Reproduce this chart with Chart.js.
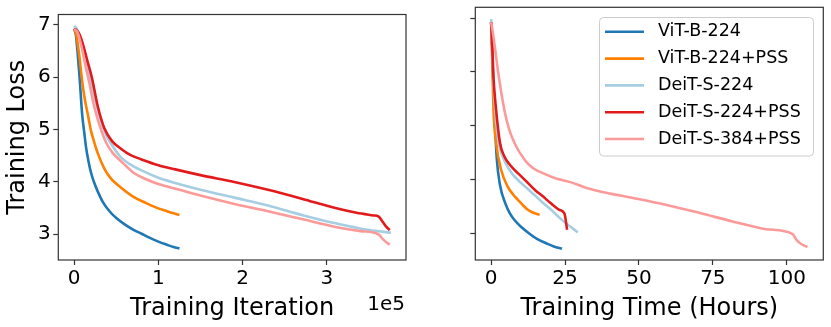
<!DOCTYPE html>
<html>
<head>
<meta charset="utf-8">
<script src="https://cdn.jsdelivr.net/npm/chart.js@4.4.1/dist/chart.umd.min.js"></script>
<style>
  html, body { margin: 0; padding: 0; background: #fff; }
  #wrap { position: relative; width: 831px; height: 327px; }
  #iterChart { position: absolute; left: 0; top: 0; }
  #timeChart { position: absolute; left: 420px; top: 0; }
</style>
</head>
<body>
<div id="wrap">
  <canvas id="iterChart" width="420" height="327"></canvas>
  <canvas id="timeChart" width="411" height="327"></canvas>
</div>
<script>
const seriesNames = ['ViT-B-224', 'ViT-B-224+PSS', 'DeiT-S-224', 'DeiT-S-224+PSS', 'DeiT-S-384+PSS'];
const seriesColors = ['#1f78b4', '#ff7f00', '#a6cee3', '#e31a1c', '#fb9a99'];

// left panel: loss vs training iteration
const vitIter = [0, 2000, 4000, 6500, 9500, 12000, 14000, 17000, 20000, 24000, 28000, 34000, 42000, 50000, 60000, 70000, 80000, 90000, 100000, 110000, 118000, 125000];
const vitIterLoss = [6.93, 6.82, 6.5, 6.0, 5.3, 4.95, 4.68, 4.4, 4.18, 3.98, 3.82, 3.62, 3.44, 3.31, 3.19, 3.09, 3.01, 2.93, 2.86, 2.8, 2.755, 2.73];
const vitPssIter = [0, 2500, 5000, 7000, 9000, 12500, 16300, 20000, 24000, 28000, 36000, 44000, 55000, 72000, 85000, 99000, 110000, 118000, 125000];
const vitPssIterLoss = [6.92, 6.82, 6.55, 6.3, 6.0, 5.6, 5.29, 4.98, 4.75, 4.55, 4.25, 4.06, 3.9, 3.7, 3.6, 3.5, 3.44, 3.4, 3.37];
const deitIter = [0, 3000, 7000, 11000, 16000, 21000, 28000, 36000, 45000, 55000, 65000, 80000, 100000, 120000, 150000, 190000, 230000, 270000, 310000, 350000, 376000];
const deitIterLoss = [6.98, 6.93, 6.77, 6.55, 6.2, 5.85, 5.38, 4.97, 4.7, 4.48, 4.35, 4.22, 4.08, 3.98, 3.85, 3.7, 3.55, 3.37, 3.21, 3.08, 3.03];
const deitPssIter = [0, 3000, 7000, 11000, 16000, 21000, 28000, 36000, 45000, 56000, 66000, 80000, 100000, 120000, 150000, 190000, 230000, 270000, 310000, 335000, 355000, 361000, 366000, 370000, 374500];
const deitPssIterLoss = [6.92, 6.9, 6.8, 6.6, 6.3, 6.0, 5.45, 5.02, 4.78, 4.63, 4.52, 4.43, 4.32, 4.24, 4.13, 4.0, 3.85, 3.68, 3.5, 3.41, 3.36, 3.34, 3.24, 3.15, 3.08];
const deit384Iter = [0, 4000, 7000, 10000, 14000, 18000, 23000, 28000, 33000, 39000, 46000, 54000, 62000, 70000, 84000, 100000, 125000, 150000, 190000, 230000, 270000, 310000, 340000, 361000, 366000, 370000, 374500];
const deit384IterLoss = [6.92, 6.86, 6.7, 6.5, 6.18, 5.9, 5.5, 5.2, 4.95, 4.72, 4.55, 4.42, 4.3, 4.18, 4.06, 3.96, 3.85, 3.74, 3.58, 3.44, 3.29, 3.14, 3.06, 3.0, 2.91, 2.85, 2.8];

// right panel: loss vs wall-clock hours
const vitHours = [0, 0.3, 0.6, 1.1, 1.9, 3.0, 4.8, 6.3, 7.9, 10.2, 12.9, 15.5, 18.6, 21.2, 24.0];
const vitHoursLoss = [6.93, 6.5, 6.0, 5.3, 4.4, 3.9, 3.56, 3.38, 3.25, 3.12, 3.0, 2.9, 2.82, 2.76, 2.72];
const vitPssHours = [0, 0.3, 0.8, 1.7, 3.4, 5.6, 7.5, 9.0, 10.5, 12.4, 14.5, 16.4];
const vitPssHoursLoss = [6.92, 6.4, 5.3, 4.68, 4.18, 3.87, 3.72, 3.63, 3.54, 3.44, 3.38, 3.35];
const deitHours = [0, 0.3, 0.8, 1.5, 2.5, 3.9, 6.2, 8.0, 10.1, 12.5, 15.2, 17.5, 20.3, 23.0, 25.3, 27.5, 29.3];
const deitHoursLoss = [6.98, 6.6, 5.8, 5.2, 4.7, 4.43, 4.18, 4.05, 3.94, 3.82, 3.69, 3.57, 3.44, 3.3, 3.19, 3.1, 3.02];
const deitPssHours = [0, 0.3, 0.8, 1.7, 3.0, 4.5, 6.0, 7.9, 10.0, 12.4, 15.0, 17.5, 20.0, 23.1, 24.8, 25.7];
const deitPssHoursLoss = [6.92, 6.6, 5.9, 5.29, 4.68, 4.43, 4.3, 4.18, 4.07, 3.94, 3.8, 3.69, 3.57, 3.44, 3.37, 3.07];
const deit384Hours = [0, 0.4, 1.1, 2.6, 4.5, 6.0, 7.9, 11.3, 14.0, 17.5, 22.0, 27.6, 32.0, 36.8, 48.0, 59.4, 70.6, 82.0, 93.0, 102.0, 103.3, 105.0, 107.0];
const deit384HoursLoss = [6.92, 6.8, 6.53, 5.91, 5.29, 4.95, 4.68, 4.37, 4.22, 4.12, 4.02, 3.94, 3.85, 3.78, 3.66, 3.53, 3.38, 3.22, 3.08, 2.99, 2.88, 2.8, 2.75];

const iterTicks = [0, 100000, 200000, 300000];
const hourTicks = [0, 25, 50, 75, 100];
const lossTicks = [3, 4, 5, 6, 7];

Chart.defaults.font.family = "'DejaVu Sans', sans-serif";
Chart.defaults.color = '#000';
Chart.defaults.animation = false;

const frameColor = '#333';

function buildDatasets(xLists, yLists) {
  return seriesNames.map((name, i) => ({
    label: name,
    data: xLists[i].map((x, j) => ({ x: x, y: yLists[i][j] })),
    borderColor: seriesColors[i],
    borderWidth: 2.6,
    pointRadius: 0,
    fill: false,
    cubicInterpolationMode: 'monotone',
    order: seriesNames.length - i   // later series on top, like matplotlib
  }));
}

// full box around the axes
const framePlugin = {
  id: 'frame',
  afterDraw(chart) {
    const a = chart.chartArea, ctx = chart.ctx;
    ctx.save();
    ctx.strokeStyle = frameColor;
    ctx.lineWidth = 1.2;
    ctx.strokeRect(a.left, a.top, a.right - a.left, a.bottom - a.top);
    ctx.restore();
  }
};

// "1e5" offset label under the right end of the x axis
const offsetTextPlugin = {
  id: 'offsetText',
  afterDraw(chart) {
    const ctx = chart.ctx;
    ctx.save();
    ctx.font = "20px 'DejaVu Sans'";
    ctx.fillStyle = '#000';
    ctx.textAlign = 'right';
    ctx.textBaseline = 'alphabetic';
    ctx.fillText('1e5', chart.chartArea.right - 1, 310);
    ctx.restore();
  }
};

const boxLegendPlugin = {
  id: 'boxLegend',
  afterDraw(chart) {
    const ctx = chart.ctx;
    ctx.save();
    ctx.beginPath();
    ctx.roundRect(179.5, 17.5, 214, 138.5, 4);
    ctx.fillStyle = 'rgba(255,255,255,0.8)';
    ctx.fill();
    ctx.strokeStyle = '#cccccc';
    ctx.lineWidth = 1;
    ctx.stroke();
    ctx.font = "17.5px 'DejaVu Sans'";
    ctx.textBaseline = 'middle';
    chart.data.datasets.forEach((ds, i) => {
      const y = 31.8 + i * 26.8;
      ctx.strokeStyle = ds.borderColor;
      ctx.lineWidth = 2.6;
      ctx.beginPath();
      ctx.moveTo(185, y);
      ctx.lineTo(224, y);
      ctx.stroke();
      ctx.fillStyle = '#000';
      ctx.fillText(ds.label, 238, y);
    });
    ctx.restore();
  }
};

function makeOptions(cfg) {
  return {
    responsive: false,
    layout: { padding: { left: 0, right: cfg.padRight, top: 7.3, bottom: 0 } },
    plugins: { legend: { display: false }, tooltip: { enabled: false } },
    scales: {
      x: {
        type: 'linear',
        min: cfg.xMin,
        max: cfg.xMax,
        afterBuildTicks: s => { s.ticks = cfg.xTicks.map(v => ({ value: v })); },
        afterFit: s => { s.height = 67; },
        border: { display: false },
        grid: { drawOnChartArea: false, tickLength: 5, tickColor: frameColor, tickWidth: 1.2 },
        ticks: { font: { size: 20 }, padding: 2, maxRotation: 0, autoSkip: false, callback: cfg.xFormat },
        title: { display: true, text: cfg.xTitle, font: { size: 24 }, padding: { top: 0, bottom: 3.7 } }
      },
      y: {
        type: 'linear',
        min: 2.508,
        max: 7.2,
        afterBuildTicks: s => { s.ticks = lossTicks.map(v => ({ value: v })); },
        afterFit: s => { s.width = cfg.yWidth; },
        border: { display: false },
        grid: { drawOnChartArea: false, tickLength: 5, tickColor: frameColor, tickWidth: 1.2 },
        ticks: { display: cfg.showY, font: { size: 20 }, padding: 2.5 },
        title: { display: cfg.showY, text: 'Training Loss', font: { size: 24 }, padding: { top: 3.1, bottom: 0 } }
      }
    }
  };
}

new Chart(document.getElementById('iterChart'), {
  type: 'line',
  data: {
    datasets: buildDatasets(
      [vitIter, vitPssIter, deitIter, deitPssIter, deit384Iter],
      [vitIterLoss, vitPssIterLoss, deitIterLoss, deitPssIterLoss, deit384IterLoss])
  },
  options: makeOptions({
    padRight: 14, yWidth: 58.3, showY: true,
    xMin: -18750, xMax: 393750, xTicks: iterTicks,
    xFormat: v => String(v / 1e5),
    xTitle: 'Training Iteration'
  }),
  plugins: [framePlugin, offsetTextPlugin]
});

new Chart(document.getElementById('timeChart'), {
  type: 'line',
  data: {
    datasets: buildDatasets(
      [vitHours, vitPssHours, deitHours, deitPssHours, deit384Hours],
      [vitHoursLoss, vitPssHoursLoss, deitHoursLoss, deitPssHoursLoss, deit384HoursLoss])
  },
  options: makeOptions({
    padRight: 7.7, yWidth: 55.3, showY: false,
    xMin: -5.35, xMax: 112.35, xTicks: hourTicks,
    xFormat: v => String(v),
    xTitle: 'Training Time (Hours)'
  }),
  plugins: [framePlugin, boxLegendPlugin]
});
</script>
</body>
</html>
